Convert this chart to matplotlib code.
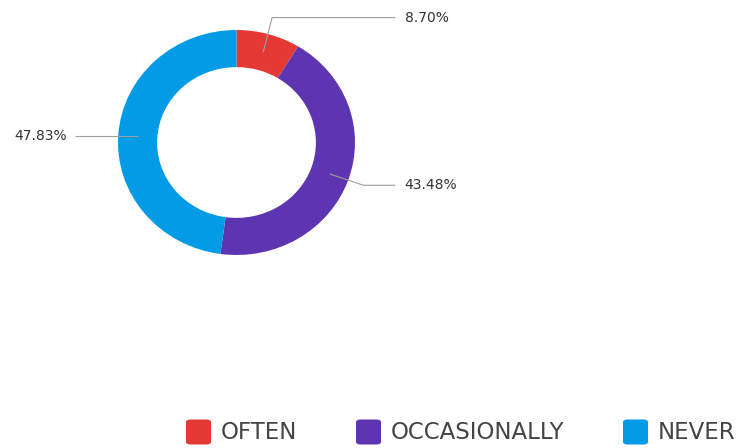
import numpy as np
import matplotlib
matplotlib.use("Agg")
import matplotlib.pyplot as plt
from matplotlib.patches import FancyBboxPatch

# data
categories = ["OFTEN", "OCCASIONALLY", "NEVER"]
shares = [8.70, 43.48, 47.83]
colors = ["#E53935", "#5E35B1", "#039BE5"]

W, H = 741, 448
fig = plt.figure(figsize=(W / 100, H / 100), dpi=100)
fig.patch.set_facecolor("white")

# donut axes (pixel box of the ring)
x0, x1, y0, y1 = 118, 355, 30, 255
ax = fig.add_axes([x0 / W, 1 - y1 / H, (x1 - x0) / W, (y1 - y0) / H])
wedges, _ = ax.pie(shares, colors=colors, startangle=90, counterclock=False,
                   radius=1.0, wedgeprops=dict(width=0.33, edgecolor="none"))
ax.set_aspect("auto")
ax.set_xlim(-1, 1)
ax.set_ylim(-1, 1)
ax.axis("off")

# leader lines: start mid-ring at mid-angle, elbow, then horizontal to label
elbows = [(0.30, 1.11), (1.07, -0.38), (None, None)]
label_side = [1, 1, -1]
line_color = "#9e9e9e"
for w, val, (ex, ey), side in zip(wedges, shares, elbows, label_side):
    ang = np.deg2rad((w.theta1 + w.theta2) / 2)
    sx, sy = 0.835 * np.cos(ang), 0.835 * np.sin(ang)
    if ex is None:
        ex, ey = sx, sy
    end_x = 1.34 if side > 0 else -1.36
    ax.plot([sx, ex, end_x], [sy, ey, ey], color=line_color, lw=0.8,
            clip_on=False, solid_capstyle="butt")
    tx = 1.42 if side > 0 else -1.43
    ax.text(tx, ey, f"{val:.2f}%", ha="left" if side > 0 else "right",
            va="center", fontsize=10, color="#333333", clip_on=False)

# legend along the bottom
legend_x = [186, 356, 623]
sq = 25
ly = 432
for cat, c, lx in zip(categories, colors, legend_x):
    fig.patches.append(FancyBboxPatch(
        (lx / W, 1 - (ly + sq / 2) / H), sq / W, sq / H,
        boxstyle="round,pad=0,rounding_size=0.006",
        transform=fig.transFigure, facecolor=c, edgecolor="none"))
    fig.text((lx + sq + 10) / W, 1 - ly / H, cat, ha="left", va="center",
             fontsize=16.5, color="#444444")

fig.savefig("out.png", dpi=100, facecolor="white")
